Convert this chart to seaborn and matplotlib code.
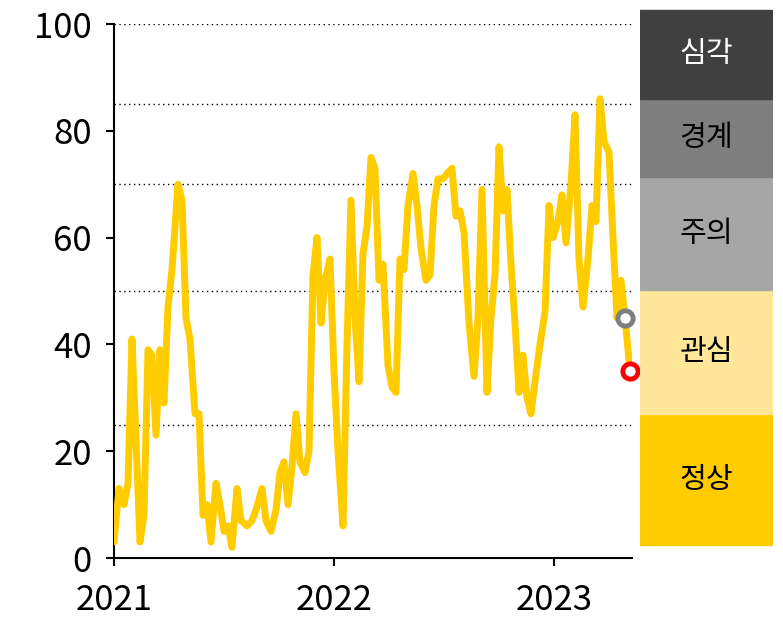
import matplotlib
matplotlib.use("Agg")
import matplotlib.pyplot as plt
import seaborn as sns
import pandas as pd

sns.set_style("white")
plt.rcParams['font.family'] = ['Noto Sans CJK KR', 'DejaVu Sans']

px = [114,119,124,128,132,136,140,144,148,152,156,160,164,168,172,178,182,186,190,195,199,203,207,211,216,220,224,228,232,237,241,247,252,256,262,266,271,276,280,284,288,292,296,300,305,309,313,317,321,325,330,334,338,343,347,351,355,359,363,367,371,375,379,383,388,392,396,400,404,408,413,417,421,426,430,434,438,443,447,452,456,460,464,469,474,478,482,487,491,495,499,503,507,511,515,519,523,527,531,535,540,545,549,553,558,562,566,571,575,579,583,588,592,596,600,604,609,613,617,621,625,630]
values = [3,13,10,14,41,22,3,8,39,38,23,39,29,47,54,70,67,45,41,27,27,8,10,3,14,10,5,6,2,13,7,6,7,9,13,7,5,9,16,18,10,17,27,18,16,20,53,60,44,52,56,35,20,6,40,67,45,33,57,62,75,73,52,55,36,32,31,56,54,66,72,66,58,52,53,66,71,71,72,73,64,65,61,44,34,45,69,31,45,53,77,65,69,55,44,31,38,30,27,33,40,46,66,60,63,68,59,70,83,56,47,56,66,63,86,78,76,60,45,52,45,35]
years = [2021 + (p - 114) / 220 for p in px]
df = pd.DataFrame({"t": years, "v": values})

levels = ["정상", "관심", "주의", "경계", "심각"]
level_colors = ["#FFCC00", "#FFE699", "#A6A6A6", "#7F7F7F", "#404040"]
level_text = ["black", "black", "black", "black", "white"]
box_edges = [545, 414, 290, 177, 99, 10]
thresholds = [25, 50, 70, 85, 100]

fig = plt.figure(figsize=(7.83, 6.36), dpi=100)
ax = fig.add_axes([114/783, 1-558/636, (632-114)/783, (558-24)/636])
sns.lineplot(data=df, x="t", y="v", ax=ax, color="#FFCC00", linewidth=5, zorder=3)
for th in thresholds:
    ax.axhline(th, color="black", linestyle=(0, (1, 2.5)), linewidth=1, zorder=1)
ax.plot(df.t.iloc[-2], df.v.iloc[-2], 'o', ms=11, mfc="white", mec="#7F7F7F", mew=3.5, zorder=4, clip_on=False)
ax.plot(df.t.iloc[-1], df.v.iloc[-1], 'o', ms=11, mfc="white", mec="red", mew=3.5, zorder=4, clip_on=False)
ax.set_xlim(2021, 2021 + (632-114)/220)
ax.set_ylim(0, 100)
ax.set_xticks([2021, 2022, 2023])
ax.set_xticklabels(["2021", "2022", "2023"])
ax.set_yticks([0, 20, 40, 60, 80, 100])
ax.tick_params(axis="both", labelsize=25, length=6, width=1.5, direction="out", colors="black", left=True, bottom=True)
ax.tick_params(axis="x", pad=12)
ax.tick_params(axis="y", pad=10)
ax.set_xlabel(""); ax.set_ylabel("")
for s in ["top", "right"]:
    ax.spines[s].set_visible(False)
for s in ["left", "bottom"]:
    ax.spines[s].set_linewidth(1.5); ax.spines[s].set_color("black")

bx = fig.add_axes([640/783, 0, (773-640)/783, 1])
bx.set_xlim(0, 1); bx.set_ylim(636, 0); bx.axis("off")
for i, lab in enumerate(levels):
    lo, hi = box_edges[i], box_edges[i+1]
    bx.axhspan(hi, lo, color=level_colors[i])
    bx.text(0.5, (lo+hi)/2, lab, ha="center", va="center", fontsize=21, color=level_text[i])

fig.savefig("out.png", dpi=100)
